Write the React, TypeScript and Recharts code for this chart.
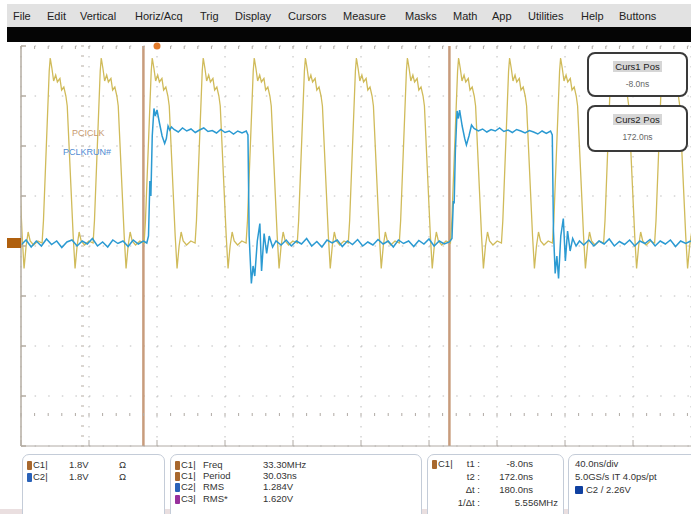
import React from "react"
import { LineChart, Line, XAxis, YAxis, CartesianGrid, ReferenceLine, ReferenceDot } from "recharts"

// time in ns (40 ns/div), level in screen divisions (0 = bottom of graticule)
const timeSpan = [-80, 314.1]
const levelSpan = [0, 8]
const majorTimes = [-80, -40, 0, 40, 80, 120, 160, 200, 240, 280]
const majorLevels = [0, 1, 2, 3, 4, 5, 6, 7, 8]
const minorTimes = Array.from({ length: 50 }, (_, i) => -80 + i * 8)
const minorLevels = Array.from({ length: 41 }, (_, i) => +(i * 0.2).toFixed(1))

const cursorTimes = [-8, 172]
const triggerTime = 0
const groundLevel = 4.06

// PCICLK rising edges, roughly one every 30 ns
const clkRises = [-97.6, -67.6, -37.6, -7.6, 22.4, 52.4, 82.5, 112.5, 142.5, 172.6, 202.6, 232.6, 262.7, 292.7]
// one clock pulse: [ns after rising edge, level]
const clkPulse = [
  [0, 4.06], [0.8, 4.5], [4.2, 7.5], [4.8, 7.76], [5.8, 7.55], [6.8, 7.3], [8.0, 7.42],
  [9.0, 7.28], [10.5, 7.35], [11.5, 7.12], [12.8, 7.18], [14.0, 7.0], [14.8, 6.8],
  [18.3, 4.2], [19.4, 3.55], [20.6, 4.0], [21.8, 4.28], [23.0, 4.1], [25.0, 4.02], [27.5, 4.1],
]

// PCLKRUN#: [ns, level]
const runTrace = [
  [-80, 4.02], [-77, 4.12], [-74, 3.98], [-71, 4.1], [-68, 4.0], [-65, 4.14], [-62, 4.03], [-59, 4.1],
  [-56, 3.97], [-53, 4.08], [-50, 4.12], [-47, 4.0], [-44, 4.1], [-41, 4.04], [-38, 4.15], [-35, 4.0],
  [-32, 4.08], [-29, 3.98], [-26, 4.12], [-23, 4.05], [-20, 4.1], [-17, 3.99], [-14, 4.12], [-11, 4.04],
  [-8, 4.1], [-6, 4.06],
  [-5, 4.2], [-4.2, 5.3], [-3.6, 5.0], [-2.8, 6.2], [-1.8, 6.75], [-1.0, 6.6], [0.0, 6.72], [1.5, 6.45],
  [3, 6.2], [4.5, 6.05], [5.5, 6.15], [6.5, 6.4], [7.5, 6.32], [8.5, 6.38],
  [10, 6.33], [12.5, 6.28], [15, 6.36], [17.5, 6.3], [20, 6.34], [22.5, 6.27], [25, 6.32], [27.5, 6.36],
  [30, 6.29], [32.5, 6.31], [35, 6.26], [37.5, 6.33], [40, 6.27], [42.5, 6.3], [45, 6.24], [47.5, 6.3],
  [50, 6.26], [52.5, 6.3], [53.5, 6.22],
  [54.2, 4.2], [55.5, 3.25], [56.5, 3.6], [57.5, 3.4], [59, 4.1], [60.5, 4.45], [61.5, 3.5], [63, 4.25],
  [64.5, 3.85], [66, 4.2], [68, 3.98], [70, 4.1],
  [73, 4.02], [76, 4.12], [79, 4.0], [82, 4.1], [85, 4.04], [88, 4.15], [91, 4.0], [94, 4.09],
  [97, 3.98], [100, 4.12], [103, 4.06], [106, 4.12], [109, 3.99], [112, 4.1], [115, 4.03], [118, 4.13],
  [121, 4.0], [124, 4.08], [127, 4.02], [130, 4.13], [133, 4.04], [136, 4.1], [139, 3.98], [142, 4.12],
  [145, 4.05], [148, 4.1], [151, 3.99], [154, 4.11], [157, 4.04], [160, 4.14], [163, 4.0], [166, 4.1],
  [169, 4.04], [172, 4.08],
  [173.5, 4.15], [174.3, 4.9], [174.8, 4.85], [175.5, 5.9], [176.5, 6.7], [177.3, 6.55], [178, 6.72],
  [179.5, 6.4], [181, 6.15], [182, 6.02], [183.5, 6.2], [185, 6.42], [186.5, 6.35],
  [189, 6.3], [191.5, 6.34], [194, 6.28], [196.5, 6.33], [199, 6.3], [201.5, 6.36], [204, 6.29],
  [206.5, 6.32], [209, 6.27], [211.5, 6.33], [214, 6.3], [216.5, 6.26], [219, 6.31], [221.5, 6.28],
  [224, 6.24], [226.5, 6.3], [229, 6.25], [231.5, 6.3], [232.5, 6.22],
  [233.2, 4.3], [234.2, 3.45], [235.2, 3.8], [236.2, 3.35], [237.5, 4.2], [239, 4.55], [240.2, 3.7],
  [241.5, 4.3], [243, 3.9], [244.5, 4.15], [246.5, 4.0], [248.5, 4.1],
  [251, 4.02], [254, 4.12], [257, 4.0], [260, 4.1], [263, 4.04], [266, 4.14], [269, 4.0], [272, 4.09],
  [275, 4.03], [278, 4.12], [281, 4.0], [284, 4.1], [287, 4.05], [290, 4.13], [293, 4.0], [296, 4.1],
  [299, 4.04], [302, 4.12], [305, 3.99], [308, 4.1], [311, 4.05], [314, 4.1],
]

const menuItems = ["File", "Edit", "Vertical", "Horiz/Acq", "Trig", "Display", "Cursors", "Measure", "Masks", "Math", "App", "Utilities", "Help", "Buttons"]
const menuX = [13, 47, 80, 135, 200, 235, 288, 343, 405, 453, 492, 528, 581, 619]

const C1 = "#a8682e"
const C2 = "#2a62b8"
const C3 = "#98309c"

const clkData = clkRises.flatMap((r) => clkPulse.map(([dt, v]) => ({ t: +(r + dt).toFixed(2), v })))
const runData = runTrace.map(([t, v]) => ({ t, v }))

const font = "'Liberation Sans', Arial, sans-serif"
const noTick = () => <g />

function T({ x, y, children, color = "#333", size = 9.5, align = "left", bg }: any) {
  const style: any = {
    position: "absolute", top: y - 6, lineHeight: "12px", fontSize: size, color,
    fontFamily: font, whiteSpace: "nowrap", background: bg,
  }
  if (align === "right") style.right = 691 - x
  else if (align === "center") { style.left = x; style.transform = "translateX(-50%)" }
  else style.left = x
  return <div style={style}>{children}</div>
}

function Sq({ x, y, color, w = 5, h = 9 }: any) {
  return <div style={{ position: "absolute", left: x, top: y - h / 2, width: w, height: h, background: color, borderRadius: 1 }} />
}

function Panel({ left, width }: any) {
  return (
    <div style={{
      position: "absolute", left, top: 454, width, height: 70, border: "1px solid #c4ccd8",
      borderRadius: 7, background: "#fff",
    }} />
  )
}

function CursorBox({ top, height, label, value }: any) {
  return (
    <div style={{
      position: "absolute", left: 587, top, width: 97, height: height - 4, border: "2px solid #3a3a3a",
      borderRadius: 8, background: "#fff",
    }}>
      <div style={{ position: "absolute", top: 7, left: 0, right: 0, textAlign: "center", fontFamily: font, fontSize: 9.5, lineHeight: "11px" }}>
        <span style={{ background: "#d6d6d6", padding: "0 2px", color: "#222" }}>{label}</span>
      </div>
      <div style={{ position: "absolute", top: 25, left: 0, right: 0, textAlign: "center", fontFamily: font, fontSize: 8.5, lineHeight: "11px", color: "#666" }}>
        {value}
      </div>
    </div>
  )
}

export default function App() {
  return (
    <div style={{ position: "absolute", left: 0, top: 0, width: 691, height: 514, overflow: "hidden", background: "#fff" }}>
      <div style={{ position: "absolute", left: 0, top: 0 }}>
        <LineChart width={691} height={514} margin={{ top: 46, right: 0, bottom: 68, left: 21 }}>
          <CartesianGrid vertical={false} stroke="#bcbcbc" strokeDasharray="1.5 12.1" />
          <CartesianGrid horizontal={false} stroke="#bcbcbc" strokeDasharray="1.5 8.5" />
          <XAxis dataKey="t" type="number" domain={timeSpan} allowDataOverflow ticks={majorTimes} interval={0}
            mirror tick={noTick} tickSize={6} stroke="#b0aaa4" />
          <XAxis xAxisId="minorB" dataKey="t" type="number" domain={timeSpan} allowDataOverflow ticks={minorTimes}
            interval={0} mirror tick={noTick} tickSize={3} axisLine={false} stroke="#b0aaa4" />
          <XAxis xAxisId="minorT" orientation="top" dataKey="t" type="number" domain={timeSpan} allowDataOverflow
            ticks={minorTimes} interval={0} mirror tick={noTick} tickSize={3} axisLine={false} stroke="#b0aaa4" />
          <YAxis type="number" domain={levelSpan} allowDataOverflow ticks={majorLevels} interval={0}
            mirror tick={noTick} tickSize={5} stroke="#b5aca2" strokeWidth={1.5} />
          <YAxis yAxisId="minorL" type="number" domain={levelSpan} allowDataOverflow ticks={minorLevels}
            interval={0} mirror tick={noTick} tickSize={3} axisLine={false} stroke="#b5aca2" />
          {cursorTimes.map((c) => (
            <ReferenceLine key={c} x={c} stroke="#c89c7c" strokeWidth={2.5} />
          ))}
          <Line data={clkData} dataKey="v" type="linear" dot={false} stroke="#d0bb5a" strokeWidth={1.3}
            isAnimationActive={false} />
          <Line data={runData} dataKey="v" type="linear" dot={false} stroke="#2b9ad2" strokeWidth={1.5}
            isAnimationActive={false} />
          <ReferenceDot x={triggerTime} y={8} r={3.5} fill="#e27a2a" stroke="none" />
          <ReferenceDot x={-80} y={groundLevel} ifOverflow="visible"
            shape={(p: any) => <rect x={p.cx - 14} y={p.cy - 5} width={14} height={10} fill="#b0600e" />} />
        </LineChart>
      </div>

      {/* menu bar */}
      <div style={{ position: "absolute", left: 7, top: 4, width: 684, height: 23, background: "#e2e2e2" }} />
      <div style={{ position: "absolute", left: 7, top: 27, width: 684, height: 15, background: "#050505" }} />
      {menuItems.map((m, i) => (
        <T key={m} x={menuX[i]} y={16} size={11} color="#222">{m}</T>
      ))}

      {/* trace labels */}
      <T x={72} y={133} size={9} color="#c89a70">PCICLK</T>
      <T x={63} y={152} size={9} color="#4f8bd2">PCLKRUN#</T>

      <CursorBox top={52} height={45} label="Curs1 Pos" value="-8.0ns" />
      <CursorBox top={105} height={47} label="Curs2 Pos" value="172.0ns" />

      {/* readouts */}
      <div style={{ position: "absolute", left: 0, top: 509, width: 691, height: 5, background: "#eadfe0" }} />
      <Panel left={22} width={141} />
      <Panel left={170} width={250} />
      <Panel left={427} width={135} />
      <Panel left={568} width={130} />

      <Sq x={27} y={465} color={C1} />
      <T x={33} y={465}>C1|</T><T x={69} y={465}>1.8V</T><T x={119} y={465}>Ω</T>
      <Sq x={27} y={477} color={C2} />
      <T x={33} y={477}>C2|</T><T x={69} y={477}>1.8V</T><T x={119} y={477}>Ω</T>

      <Sq x={175} y={465} color={C1} />
      <T x={181} y={465}>C1|</T><T x={203} y={465}>Freq</T><T x={263} y={465}>33.30MHz</T>
      <Sq x={175} y={476} color={C1} />
      <T x={181} y={476}>C1|</T><T x={203} y={476}>Period</T><T x={263} y={476}>30.03ns</T>
      <Sq x={175} y={487} color={C2} />
      <T x={181} y={487}>C2|</T><T x={203} y={487}>RMS</T><T x={263} y={487}>1.284V</T>
      <Sq x={175} y={499} color={C3} />
      <T x={181} y={499}>C3|</T><T x={203} y={499}>RMS*</T><T x={263} y={499}>1.620V</T>

      <Sq x={432} y={464} color={C1} />
      <T x={438} y={464}>C1|</T>
      <T x={480} y={464} align="right">t1 :</T><T x={533} y={464} align="right">-8.0ns</T>
      <T x={480} y={477} align="right">t2 :</T><T x={533} y={477} align="right">172.0ns</T>
      <T x={480} y={490} align="right">Δt :</T><T x={533} y={490} align="right">180.0ns</T>
      <T x={480} y={503} align="right">1/Δt :</T><T x={558} y={503} align="right">5.556MHz</T>

      <T x={575} y={464}>40.0ns/div</T>
      <T x={575} y={477}>5.0GS/s IT 4.0ps/pt</T>
      <Sq x={575} y={490} color="#1040a0" w={8} h={8} />
      <T x={586} y={490}>C2 / 2.26V</T>
    </div>
  )
}
